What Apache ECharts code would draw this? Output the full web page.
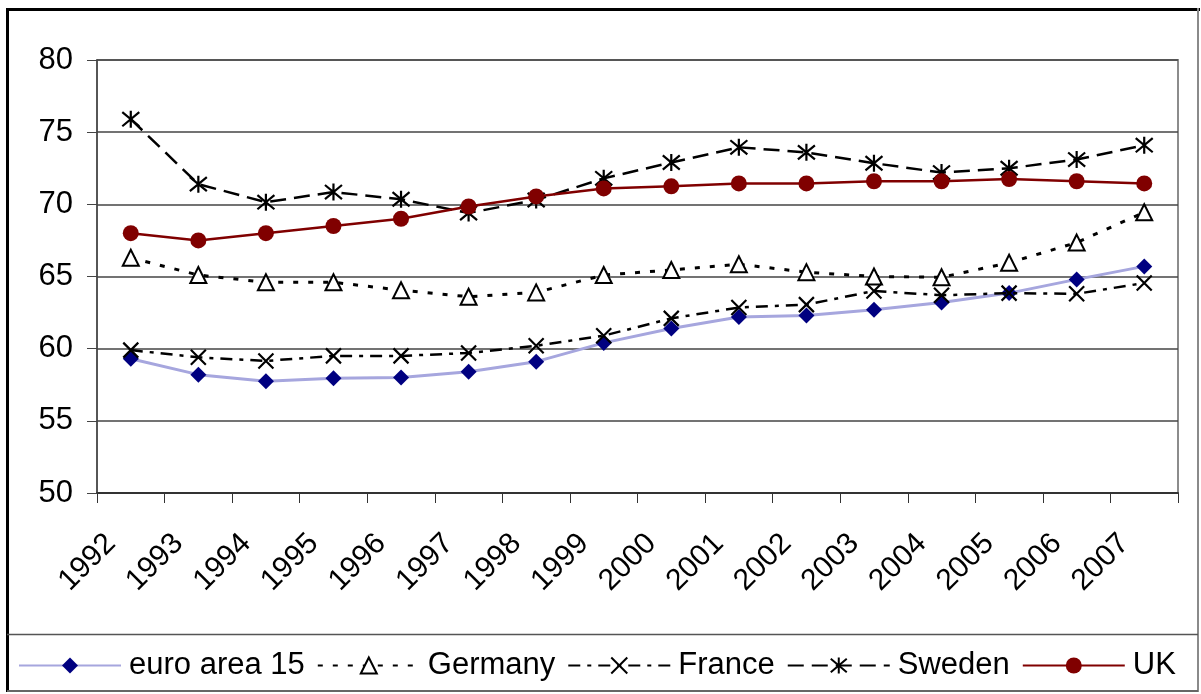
<!DOCTYPE html>
<html>
<head>
<meta charset="utf-8">
<title>Employment rates 1992-2007</title>
<script src="https://cdn.jsdelivr.net/npm/echarts@6/dist/echarts.min.js"></script>
<style>
  html, body { margin: 0; padding: 0; background: #fff; }
  #chart { width: 1201px; height: 694px; }
</style>
</head>
<body>
<div id="chart"></div>
<script>
// Category labels (years) and series values
const years = ['1992','1993','1994','1995','1996','1997','1998','1999','2000','2001','2002','2003','2004','2005','2006','2007'];
const euroArea15 = [59.3, 58.2, 57.75, 57.95, 58.0, 58.4, 59.1, 60.4, 61.4, 62.2, 62.3, 62.7, 63.2, 63.85, 64.8, 65.7];
const germany    = [66.3, 65.1, 64.6, 64.6, 64.05, 63.6, 63.9, 65.1, 65.45, 65.85, 65.3, 65.0, 64.95, 65.95, 67.35, 69.45];
const france     = [59.9, 59.4, 59.15, 59.5, 59.5, 59.7, 60.2, 60.9, 62.1, 62.85, 63.05, 64.0, 63.7, 63.85, 63.8, 64.55];
const sweden     = [75.9, 71.4, 70.15, 70.85, 70.35, 69.4, 70.3, 71.8, 72.9, 73.95, 73.6, 72.85, 72.2, 72.5, 73.1, 74.1];
const uk         = [68.0, 67.5, 68.0, 68.5, 69.0, 69.85, 70.55, 71.1, 71.25, 71.45, 71.45, 71.6, 71.6, 71.75, 71.6, 71.45];

const FONT = '"Liberation Sans", Arial, sans-serif';

// Stroked marker shapes: a cross and a six-armed star
const xMark = 'path://M0,0L10,10M10,0L0,10';
const starMark = 'path://M0,0L10,10M10,0L0,10M5,-1L5,11';

const chart = echarts.init(document.getElementById('chart'), null, { renderer: 'canvas' });

chart.setOption({
  animation: false,
  backgroundColor: '#ffffff',
  textStyle: { fontFamily: FONT },
  grid: {
    left: 97, right: 23, top: 60, bottom: 201,
    show: true, borderColor: '#8c8c8c', borderWidth: 2, backgroundColor: 'transparent'
  },
  xAxis: {
    type: 'category',
    data: years,
    boundaryGap: true,
    axisLine: { lineStyle: { color: '#333', width: 2 } },
    axisTick: { show: true, length: 10, alignWithLabel: false, interval: 0, lineStyle: { color: '#333', width: 1 } },
    axisLabel: {
      interval: 0, rotate: 45, margin: 26, hideOverlap: false,
      fontSize: 30, color: '#000', fontFamily: FONT,
      padding: [0, 28, 0, 0]
    },
    splitLine: { show: false }
  },
  yAxis: {
    type: 'value',
    min: 50, max: 80, interval: 5,
    axisLine: { show: true, lineStyle: { color: '#444', width: 1.5 } },
    axisTick: { show: true, length: 10, lineStyle: { color: '#444', width: 1 } },
    axisLabel: { fontSize: 31, color: '#000', margin: 24, fontFamily: FONT },
    splitLine: { show: true, lineStyle: { color: '#454545', width: 1.5 } }
  },
  legend: {
    left: 13, top: 645,
    itemWidth: 102, itemHeight: 20, itemGap: 12,
    textStyle: { fontSize: 31, color: '#000', fontFamily: FONT, padding: [0, 0, 0, 3] },
    data: ['euro area 15', 'Germany', 'France', 'Sweden', 'UK']
  },
  graphic: [
    { type: 'line', shape: { x1: 7, y1: 9.5, x2: 1200, y2: 9.5 }, style: { stroke: '#000', lineWidth: 3 }, silent: true },
    { type: 'line', shape: { x1: 7.5, y1: 8, x2: 7.5, y2: 692 }, style: { stroke: '#000', lineWidth: 3 }, silent: true },
    { type: 'line', shape: { x1: 1198, y1: 8, x2: 1198, y2: 692 }, style: { stroke: '#8a8a8a', lineWidth: 2 }, silent: true },
    { type: 'line', shape: { x1: 7, y1: 691, x2: 1198, y2: 691 }, style: { stroke: '#666', lineWidth: 2 }, silent: true },
    { type: 'line', shape: { x1: 7, y1: 634.5, x2: 1198, y2: 634.5 }, style: { stroke: '#555', lineWidth: 1.5 }, silent: true }
  ],
  series: [
    {
      name: 'euro area 15', type: 'line', data: euroArea15,
      symbol: 'diamond', symbolSize: 16,
      lineStyle: { color: '#a6a6de', width: 3, type: 'solid' },
      itemStyle: { color: '#000080', borderColor: '#000080', borderWidth: 0 },
      z: 2
    },
    {
      name: 'Germany', type: 'line', data: germany,
      symbol: 'triangle', symbolSize: 16,
      lineStyle: { color: '#000', width: 3, type: [5, 10] },
      itemStyle: { color: '#fff', borderColor: '#000', borderWidth: 2 },
      z: 3
    },
    {
      name: 'France', type: 'line', data: france,
      symbol: xMark, symbolSize: 15,
      lineStyle: { color: '#000', width: 2.5, type: [12, 7, 4, 7] },
      itemStyle: { color: 'none', borderColor: '#000', borderWidth: 2.2 },
      z: 3
    },
    {
      name: 'Sweden', type: 'line', data: sweden,
      symbol: starMark, symbolSize: 17,
      lineStyle: { color: '#000', width: 2.5, type: [16, 8] },
      itemStyle: { color: 'none', borderColor: '#000', borderWidth: 2.2 },
      z: 3
    },
    {
      name: 'UK', type: 'line', data: uk,
      symbol: 'circle', symbolSize: 16,
      lineStyle: { color: '#800000', width: 2.5, type: 'solid' },
      itemStyle: { color: '#800000', borderColor: '#800000', borderWidth: 0 },
      z: 4
    }
  ]
});
</script>
</body>
</html>
